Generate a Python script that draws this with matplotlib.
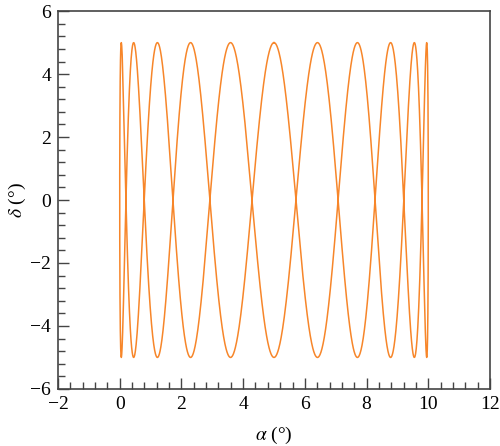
import matplotlib
matplotlib.use('Agg')
import matplotlib.pyplot as plt
import numpy as np
from matplotlib.ticker import MultipleLocator

# curve parameters
alpha_centre = 5.0     # deg, middle of the alpha sweep
alpha_amp = 5.0        # deg, alpha goes 0..10
delta_amp = 5.0        # deg, delta goes -5..5
freq_ratio = 11        # delta lobes per alpha sweep

xlim = (-2, 12)
ylim = (-6, 6)
xticks = [-2, 0, 2, 4, 6, 8, 10, 12]
yticks = [-6, -4, -2, 0, 2, 4, 6]

t = np.linspace(0, 2 * np.pi, 4000)
alpha = alpha_centre + alpha_amp * np.sin(t)
delta = delta_amp * np.cos(freq_ratio * t)

plt.rcParams['font.family'] = 'serif'
plt.rcParams['font.serif'] = ['Liberation Serif', 'DejaVu Serif']
plt.rcParams['mathtext.fontset'] = 'stix'

fig = plt.figure(figsize=(5.0, 4.46), dpi=100)
ax = fig.add_axes([0.116, 0.128, 0.864, 0.847])
ax.plot(alpha, delta, color='#F7862A', lw=1.1)

ax.set_xlim(*xlim)
ax.set_ylim(*ylim)
ax.set_xticks(xticks)
ax.set_yticks(yticks)
ax.xaxis.set_minor_locator(MultipleLocator(0.4))
ax.yaxis.set_minor_locator(MultipleLocator(0.4))
ax.tick_params(which='both', direction='in', top=False, right=False,
               color='#444444', labelsize=14, width=1.0)
ax.tick_params(which='major', length=8, pad=5)
ax.tick_params(which='minor', length=5)
for s in ax.spines.values():
    s.set_color('#444444')
    s.set_linewidth(1.2)

ax.set_xlabel(r'$\alpha$ (°)', fontsize=14, va='center')
ax.set_ylabel(r'$\delta$ (°)', fontsize=14, va='center', ha='center')
ax.xaxis.set_label_coords(0.5, -0.122)
ax.yaxis.set_label_coords(-0.093, 0.5)

fig.savefig('out.png', dpi=100)
